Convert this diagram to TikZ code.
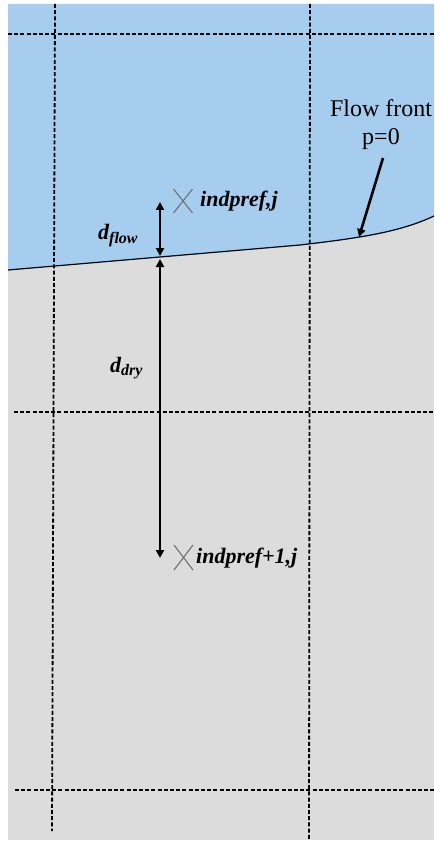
\documentclass[tikz,border=0pt]{standalone}
\usepackage{fontspec}
\setmainfont{Liberation Serif}
\usetikzlibrary{arrows.meta,calc}
\definecolor{wet}{HTML}{A6CDEE}
\definecolor{dry}{HTML}{DCDCDC}
\definecolor{mark}{HTML}{707070}
\begin{document}
\begin{tikzpicture}[x=1pt,y=-1pt,
  grid/.style={line width=1.8pt,dash pattern=on 4pt off 2.2pt},
  dim/.style={line width=2.6pt,{Triangle[length=8pt,width=8pt]}-{Triangle[length=8pt,width=8pt]}},
  pointer/.style={line width=2.6pt,-{Triangle[length=8pt,width=8pt]}},
  front/.style={line width=1.2pt},
  cross/.style={draw=mark,line width=1.1pt},
  lbl/.style={inner sep=0pt,font=\fontsize{22}{24}\selectfont\bfseries\itshape},
  note/.style={inner sep=0pt,align=center,font=\fontsize{24}{28}\selectfont}]
\useasboundingbox (0,0) rectangle (434,842);
% regions
\fill[dry] (8,4) rectangle (434,840);
\fill[wet] (8,4) -- (434,4) -- (434,216) .. controls (400,232) and (360,238) .. (300,245) -- (8,270) -- cycle;
% grid
\draw[grid] (8,34) -- (434,34);
\draw[grid] (14,412) -- (434,412);
\draw[grid] (15,790) -- (434,790);
\draw[grid] (55,4) -- (52,831);
\draw[grid] (310,4) -- (309,839);
% flow front
\draw[front] (8,270) -- (300,245) .. controls (360,238) and (400,232) .. (434,216);
% points
\coordinate (P1) at (183,201);
\coordinate (P2) at (183.5,557.5);
\draw[cross] ($(P1)+(-9.5,-12)$) -- ($(P1)+(9.5,12)$) ($(P1)+(9.5,-12)$) -- ($(P1)+(-9.5,12)$);
\draw[cross] ($(P2)+(-9.5,-12.5)$) -- ($(P2)+(9.5,12.5)$) ($(P2)+(9.5,-12.5)$) -- ($(P2)+(-9.5,12.5)$);
\node[lbl,anchor=west] (t1) at (200,201) {indpref,j};
\node[lbl,anchor=west] (t2) at (196,558) {indpref+1,j};
% dimensions
\coordinate (a1) at (160,202);
\coordinate (a2) at (160,256);
\coordinate (b1) at (160,259);
\coordinate (b2) at (160,558);
\draw[dim] (a1) -- (a2);
\draw[dim] (b1) -- (b2);
\node[lbl,anchor=base west] (df) at (98,239) {d{\fontsize{16}{16}\selectfont\raisebox{-4pt}{flow}}};
\node[lbl,anchor=base west] (dd) at (110,372) {d{\fontsize{16}{16}\selectfont\raisebox{-3pt}{dry}}};
% flow front note
\node[note] (ff) at (381,125) {Flow front\\p=0};
\coordinate (fa) at (383,158);
\coordinate (fb) at (359,237);
\draw[pointer] (fa) -- (fb);
\end{tikzpicture}
\end{document}
